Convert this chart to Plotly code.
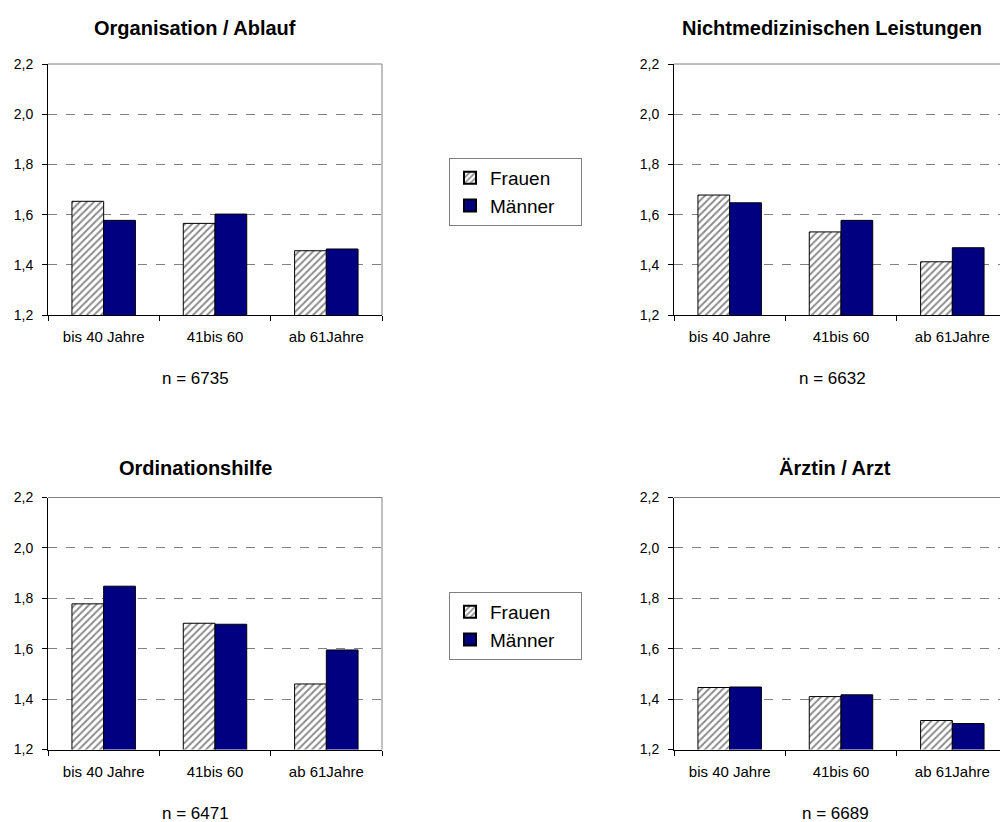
import plotly.graph_objects as go

# data
categories = ['bis 40 Jahre', '41bis 60', 'ab 61Jahre']

org_frauen = [1.653, 1.565, 1.456]
org_maenner = [1.577, 1.602, 1.463]

nichtmed_frauen = [1.678, 1.531, 1.412]
nichtmed_maenner = [1.647, 1.577, 1.468]

ordi_frauen = [1.778, 1.701, 1.460]
ordi_maenner = [1.848, 1.697, 1.595]

arzt_frauen = [1.446, 1.410, 1.315]
arzt_maenner = [1.448, 1.417, 1.303]

titles = ['Organisation / Ablauf', 'Nichtmedizinischen Leistungen',
          'Ordinationshilfe', 'Ärztin / Arzt']
n_labels = ['n = 6735', 'n = 6632', 'n = 6471', 'n = 6689']

W, H = 1000, 822
FONT = 'Liberation Sans, Arial, sans-serif'
NAVY = '#000080'
GRID = '#808080'
PAD = '\u00a0' * 4  # widens the legend box a little


def px_x(x):
    return x / W


def px_y(y):
    return 1 - y / H


# plot areas in pixels: (left, right, top, bottom)
panels = [
    (48, 382, 64, 315),
    (674, 1000, 64, 315),
    (48, 382, 497.5, 749.5),
    (674, 1000, 497.5, 749.5),
]
cat_px = (382 - 48) / 3.0

series = [
    (org_frauen, org_maenner),
    (nichtmed_frauen, nichtmed_maenner),
    (ordi_frauen, ordi_maenner),
    (arzt_frauen, arzt_maenner),
]

fig = go.Figure()

for i, (fr, ma) in enumerate(series):
    k = '' if i == 0 else str(i + 1)
    legend = 'legend' if i == 0 else 'legend2'
    show = i in (0, 2)
    fig.add_trace(go.Bar(
        x=categories, y=fr, name='Frauen' + PAD,
        xaxis='x' + k, yaxis='y' + k,
        legend=legend, showlegend=show,
        marker=dict(
            color='white',
            line=dict(color='black', width=1),
            pattern=dict(shape='/', fgcolor='#8c8c8c', bgcolor='white',
                         size=5, solidity=0.4, fillmode='replace'),
        ),
    ))
    fig.add_trace(go.Bar(
        x=categories, y=ma, name='Männer' + PAD,
        xaxis='x' + k, yaxis='y' + k,
        legend=legend, showlegend=show,
        marker=dict(color=NAVY, line=dict(color='black', width=1)),
    ))

layout = dict(
    width=W, height=H,
    margin=dict(l=0, r=0, t=0, b=0, autoexpand=False),
    paper_bgcolor='white', plot_bgcolor='white',
    font=dict(family=FONT, size=14, color='black'),
    separators=', ',
    barmode='group', bargap=0.43, bargroupgap=0,
)

shapes = []
annotations = []
for i, (l, r, t, b) in enumerate(panels):
    k = '' if i == 0 else str(i + 1)
    span = (r - l) / cat_px
    layout['xaxis' + k] = dict(
        domain=[px_x(l), px_x(r)],
        anchor='y' + k,
        type='category',
        range=[-0.5, -0.5 + span],
        automargin=False,
        showline=True, linecolor='black', linewidth=1,
        ticks='outside', tickson='boundaries', ticklen=5,
        tickcolor='black', ticklabelstandoff=8,
        showgrid=False, zeroline=False,
        tickfont=dict(size=15),
    )
    layout['yaxis' + k] = dict(
        domain=[px_y(b), px_y(t)],
        anchor='x' + k,
        range=[1.2, 2.2], dtick=0.2, tick0=1.2, tickformat='.1f',
        automargin=False,
        showline=True, linecolor='black', linewidth=1,
        ticks='outside', ticklen=5, tickcolor='black',
        ticklabelstandoff=6,
        showgrid=True, gridcolor=GRID, griddash='dash', gridwidth=1,
        zeroline=False,
        tickfont=dict(size=14),
    )
    # grey top border (and right border when it is visible)
    shapes.append(dict(type='line', xref='x' + k + ' domain', yref='y' + k + ' domain',
                       x0=0, x1=1, y0=1, y1=1, line=dict(color=GRID, width=1)))
    if r < W:
        shapes.append(dict(type='line', xref='x' + k + ' domain', yref='y' + k + ' domain',
                           x0=1, x1=1, y0=0, y1=1, line=dict(color=GRID, width=1)))

title_pos = [(195, 28), (832, 28), (195, 468), (835, 468)]
n_pos = [(195, 378), (832, 378), (195, 813), (835, 813)]
for i in range(4):
    annotations.append(dict(
        text='<b>' + titles[i] + '</b>', xref='paper', yref='paper',
        x=px_x(title_pos[i][0]), y=px_y(title_pos[i][1]),
        xanchor='center', yanchor='middle', showarrow=False,
        font=dict(size=20, family=FONT, color='black'),
    ))
    annotations.append(dict(
        text=n_labels[i], xref='paper', yref='paper',
        x=px_x(n_pos[i][0]), y=px_y(n_pos[i][1]),
        xanchor='center', yanchor='middle', showarrow=False,
        font=dict(size=17, family=FONT, color='black'),
    ))

legend_style = dict(
    xanchor='left', yanchor='top',
    bgcolor='white', bordercolor=GRID, borderwidth=1,
    font=dict(size=19, family=FONT, color='black'),
    itemsizing='constant', tracegroupgap=4,
)
layout['legend'] = dict(x=px_x(449), y=px_y(158), **legend_style)
layout['legend2'] = dict(x=px_x(449), y=px_y(592), **legend_style)

layout['shapes'] = shapes
layout['annotations'] = annotations
fig.update_layout(**layout)

fig.write_html('out.html',
               config={'displayModeBar': False},
               post_script="document.body.style.margin='0';"
                           "document.body.style.overflow='hidden';")
